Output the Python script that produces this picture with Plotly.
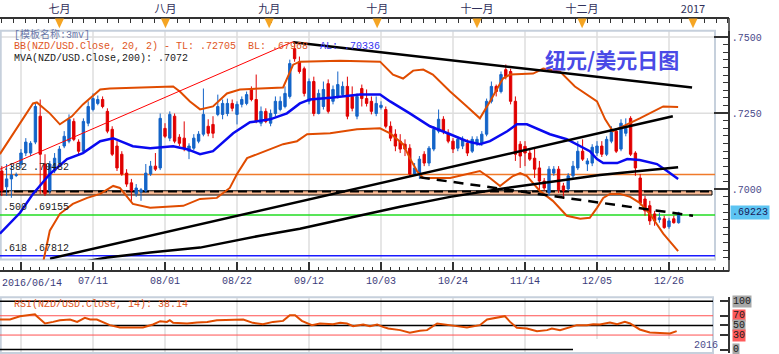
import plotly.graph_objects as go

W, H = 779, 354
PW = 729  # width of plotting area in px (right margin holds the price axis)

def yp(p):
    return 1 - p / H

def xp(p):
    return p / PW

MONO = "Liberation Mono, Noto Sans CJK SC, monospace"
CJK = "Noto Sans CJK SC"

# ---------------- data (trading-day index 0 = 2016/06/14) ----------------
opens = [.7060, .7008, .7034, .7045, .7083, .7119, .7119, .7155, .7240, .7083,
         .6995, .7060, .7086, .7142, .7158, .7223, .7155, .7125, .7217, .7262,
         .7282, .7295, .7256, .7197, .7142, .7115, .7053, .7021, .6985, .6991,
         .6995, .7050, .7076, .7070, .7200, .7168, .7240, .7171, .7168, .7125,
         .7135, .7158, .7181, .7207, .7213, .7246, .7246, .7249, .7282, .7246,
         .7279, .7282, .7328, .7295, .7217, .7256, .7217, .7249, .7262, .7272,
         .7305, .7462, .7419, .7396, .7289, .7354, .7249, .7272, .7347, .7289,
         .7305, .7311, .7338, .7305, .7240, .7331, .7298, .7289, .7249, .7269,
         .7262, .7207, .7181, .7158, .7148, .7135, .7050, .7050, .7115, .7086,
         .7132, .7191, .7230, .7184, .7158, .7135, .7142, .7151, .7125, .7151,
         .7151, .7181, .7289, .7338, .7321, .7393, .7387, .7289, .7148, .7141,
         .7119, .7102, .7070, .7027, .6988, .7053, .7066, .7011, .7001, .7044,
         .7070, .7125, .7083, .7086, .7119, .7142, .7115, .7158, .7191, .7132,
         .7184, .7233, .7119, .7037, .6968, .6946, .6919, .6900, .6903, .6877,
         .6903, .6890]
highs = [.7076, .7083, .7083, .7055, .7132, .7168, .7158, .7285, .7295, .7115,
         .7093, .7119, .7142, .7191, .7246, .7233, .7164, .7233, .7289, .7315,
         .7308, .7305, .7266, .7207, .7158, .7125, .7066, .7034, .7017, .7004,
         .7083, .7093, .7119, .7249, .7217, .7256, .7249, .7181, .7223, .7151,
         .7181, .7191, .7331, .7230, .7240, .7311, .7295, .7298, .7295, .7289,
         .7305, .7321, .7338, .7377, .7272, .7266, .7262, .7305, .7305, .7338,
         .7426, .7485, .7436, .7403, .7364, .7370, .7328, .7354, .7361, .7341,
         .7387, .7354, .7370, .7338, .7315, .7344, .7328, .7305, .7305, .7289,
         .7272, .7223, .7197, .7181, .7164, .7148, .7086, .7109, .7125, .7142,
         .7207, .7262, .7240, .7197, .7168, .7174, .7174, .7164, .7174, .7174,
         .7191, .7298, .7354, .7344, .7387, .7410, .7396, .7305, .7158, .7158,
         .7132, .7135, .7093, .7037, .7076, .7076, .7076, .7021, .7053, .7093,
         .7158, .7164, .7102, .7148, .7158, .7158, .7174, .7207, .7200, .7230,
         .7233, .7240, .7125, .7050, .6978, .6962, .6929, .6923, .6913, .6906,
         .6913, .6926]
lows = [.6978, .6978, .6972, .7040, .7070, .7109, .7109, .7148, .6985, .6978,
        .6985, .7053, .7076, .7135, .7151, .7158, .7115, .7119, .7207, .7256,
        .7276, .7266, .7184, .7109, .7060, .7044, .7008, .6962, .6975, .6962,
        .6988, .7044, .7060, .7063, .7168, .7158, .7151, .7142, .7125, .7099,
        .7128, .7151, .7174, .7174, .7168, .7240, .7230, .7240, .7256, .7213,
        .7269, .7276, .7289, .7217, .7207, .7217, .7207, .7240, .7256, .7266,
        .7298, .7419, .7380, .7305, .7279, .7240, .7246, .7262, .7249, .7279,
        .7298, .7305, .7230, .7256, .7230, .7272, .7272, .7246, .7240, .7262,
        .7200, .7158, .7125, .7119, .7109, .7044, .7044, .7034, .7076, .7076,
        .7125, .7184, .7181, .7151, .7119, .7125, .7132, .7109, .7119, .7142,
        .7142, .7174, .7282, .7305, .7315, .7361, .7279, .7093, .7070, .7076,
        .7093, .7037, .6995, .6995, .6978, .7044, .6988, .6968, .6995, .7037,
        .7063, .7093, .7060, .7076, .7109, .7106, .7109, .7151, .7119, .7125,
        .7174, .7109, .7044, .6946, .6913, .6883, .6880, .6890, .6870, .6870,
        .6887, .6887]
closes = [.6995, .7034, .7047, .7048, .7119, .7155, .7151, .7272, .7115, .6985,
          .7083, .7102, .7132, .7174, .7230, .7164, .7125, .7223, .7272, .7298,
          .7295, .7272, .7191, .7115, .7070, .7050, .7017, .6995, .7004, .6998,
          .7053, .7076, .7066, .7233, .7174, .7246, .7158, .7151, .7135, .7142,
          .7168, .7181, .7246, .7184, .7184, .7272, .7282, .7282, .7266, .7279,
          .7295, .7311, .7295, .7223, .7256, .7223, .7249, .7289, .7289, .7315,
          .7413, .7429, .7387, .7315, .7354, .7249, .7315, .7328, .7256, .7328,
          .7344, .7338, .7240, .7266, .7305, .7298, .7282, .7256, .7282, .7276,
          .7207, .7168, .7142, .7132, .7132, .7050, .7070, .7099, .7086, .7135,
          .7197, .7230, .7191, .7158, .7132, .7164, .7164, .7119, .7164, .7164,
          .7181, .7289, .7338, .7321, .7377, .7370, .7289, .7115, .7109, .7119,
          .7099, .7066, .7027, .7004, .7066, .7066, .6998, .6995, .7044, .7076,
          .7125, .7099, .7093, .7138, .7142, .7115, .7164, .7197, .7125, .7217,
          .7200, .7115, .7070, .6955, .6929, .6896, .6896, .6906, .6874, .6896,
          .6890, .69223]
days = list(range(len(closes)))

# Bollinger upper / lower, 20-day mean, 200-day mean (read at visible turning points)
bbu_day = [-0.4, 6.5, 7.3, 10, 12.1, 14.6, 16.9, 20.5, 22.5, 28.8, 35.7, 37.1, 39.2, 41.3, 44,
           46.9, 49.6, 53.8, 58.6, 60.7, 62.1, 70.5, 78.8, 81.5, 83.6, 85.7, 87.8, 89.8, 93.4,
           96.9, 99.6, 101.7, 104.4, 105.9, 110.7, 112.8, 116.3, 119.4, 124, 125.7, 127.3, 129.4,
           132.9, 137.8, 140.9]
bbu = [.71154, .72821, .72853, .72494, .72134, .72396, .72788, .73278, .73311, .73344, .73376,
       .73213, .72886, .72625, .72723, .73147, .73278, .73311, .73344, .74095, .74193, .74226,
       .74193, .73768, .73638, .73899, .73932, .73768, .73213, .72723, .72330, .72886, .73638,
       .73768, .73801, .73964, .73866, .73376, .72886, .72298, .71906, .72069, .72330, .72723,
       .72705]
bbl_day = [8.6, 10, 12.1, 14.8, 17.8, 20.5, 23.2, 24.6, 27.3, 30.9, 37.8, 41.3, 44.8, 47.5, 49,
           51.1, 53.8, 55.9, 58.6, 61.5, 63.6, 68.4, 74, 78.8, 80.9, 83.6, 85, 86.5, 87.8, 93.4,
           96.9, 99.6, 101.7, 103.8, 106.5, 108, 109.4, 112.1, 114.8, 117.7, 120.5, 122.5, 124,
           125.3, 126.7, 128.8, 130.9, 132.9, 135, 137.8, 140.9]
bbl = [.67592, .68638, .69193, .69520, .69716, .69847, .70108, .70043, .69520, .69389, .69455,
       .69683, .69716, .70043, .70500, .71023, .71187, .71317, .71481, .71579, .71808, .71840,
       .71971, .72004, .71840, .71481, .71023, .70598, .70370, .70370, .70500, .70598, .70370,
       .70108, .70435, .70533, .70435, .69945, .69618, .69128, .69030, .69062, .69389, .69716,
       .69847, .69847, .69749, .69553, .69193, .68540, .67968]
ma20_day = [-0.4, 3.8, 6.5, 10, 13.6, 16.9, 20.5, 23.2, 27.3, 30.9, 35.7, 38.6, 41.3, 44, 48.2,
            51.7, 55.9, 59.4, 62.1, 64.2, 69, 74.6, 78.8, 80.9, 85, 89.2, 93.4, 96.9, 99.6, 101.7,
            105.3, 107.3, 109.4, 112.1, 114.2, 117.7, 120.5, 122.5, 124, 125.3, 128.2, 130.3,
            132.9, 136.5, 138.6, 140.9]
ma20 = [.68540, .69226, .69847, .70500, .70991, .71187, .71579, .71677, .71415, .71350, .71415,
        .71317, .71154, .71252, .71840, .72200, .72298, .72494, .72821, .72951, .73017, .73115,
        .73115, .72886, .72494, .72069, .71808, .71579, .71481, .71579, .71906, .72134, .72134,
        .71938, .71808, .71644, .71415, .71252, .70991, .70860, .70860, .70991, .70958, .70827,
        .70598, .70336]
ma200_day = [16.3, 21.9, 30.9, 41.3, 53.8, 62.1, 72.5, 83, 93.4, 103.8, 114.2, 124.6, 135, 140.9]
ma200 = [.67592, .67755, .67919, .68082, .68474, .68703, .69062, .69422, .69749, .70010, .70239,
         .70468, .70631, .7072]

rsi_day = [-0.4, 1.7, 3.8, 5.9, 6.9, 7.3, 9, 10.7, 12.1, 14.2, 15.7, 17.3, 18.4, 19.8, 21.1, 22.5,
           24.6, 27.3, 29.4, 31.5, 33, 34.4, 35, 35.7, 38.6, 40.7, 42.8, 44.8, 48.2, 50.3, 52.3,
           54.4, 56.5, 58.6, 60, 61.1, 62.5, 64.6, 66.3, 69, 70.5, 71.9, 73.2, 75.3, 76.7, 78.2,
           79.4, 80.5, 83, 85, 87.1, 88.6, 90.7, 92.8, 94.8, 96.9, 99.6, 101.1, 103.2, 104.8,
           105.9, 107.3, 109.4, 111.5, 113.6, 114.6, 116.3, 118.4, 119.8, 121.9, 123.2, 124.6,
           126.7, 128.2, 129.8, 130.9, 132.9, 135, 137.1, 139.2, 140.6]
rsi = [62.3, 62.3, 69.1, 71.1, 73.2, 69.1, 54.0, 57.3, 60.8, 62.3, 57.3, 65.6, 62.3, 62.3, 57.3,
       50.5, 45.8, 45.8, 45.8, 52, 58.8, 57.3, 60.8, 55.3, 54, 56.1, 57.3, 60.8, 62.3, 62.3, 55.3,
       52.6, 57.3, 59.4, 71.1, 71.1, 59.4, 50.5, 54, 52.6, 55.3, 54, 48.5, 52, 48.5, 52, 47, 43.7,
       40.2, 34.6, 38.8, 40.2, 54, 50.5, 48.5, 45.8, 50.5, 62.3, 65.6, 69.1, 57.3, 45, 43.7, 38.1,
       40.2, 43.7, 40.2, 45.8, 50.5, 50.5, 52.6, 52, 56.1, 52.6, 57.3, 54, 41.6, 35.5, 34.6, 33.4,
       38.14]

# hand-drawn trend lines (endpoints in day index / price)
red_line_day, red_line = [-0.375, 60.7], [.7066, .7485]
top_line_day, top_line = [60.7, 143.8], [.7483, .7334]
up_line_day, up_line = [10.05, 139.8], [.6772, .7240]
dash_line_day, dash_line = [87.1, 144.0], [.7039, .6913]

fib_levels = [0.70482, 0.69155, 0.67812]
fib_labels = [".382 .70482", ".500 .69155", ".618 .67812"]
fib_colors = ["#f07a2a", "#22dd22", "#1a1aff"]
band = [0.6981, 0.6995]
band_dash = 0.6993
last_price = 0.69223

tick_days = [4, 19, 34, 49, 64, 79, 94, 109, 124, 139]
tick_labels = ["", "07/11", "08/01", "08/22", "09/12", "10/03", "10/24", "11/14", "12/05", "12/26"]
month_days = [12.0, 34.1, 55.7, 78.2, 99.0, 120.9, 144.0]
month_labels = ["七月", "八月", "九月", "十月", "十一月", "十二月", "2017"]

rsi_levels = [100, 70, 50, 30, 0]
rsi_level_bg = ["#a8a8a8", "#ff5a5a", "#a8a8a8", "#ff5a5a", "#a8a8a8"]

UP = "#1464c8"
DN = "#e00000"
ORANGE = "#e04c00"

XR = [-0.375, 151.5]
YR = [0.67690, 0.75206]
RR = [-7.2, 108.2]

fig = go.Figure()

fig.add_trace(go.Candlestick(
    x=days, open=opens, high=highs, low=lows, close=closes,
    increasing=dict(line=dict(color=UP, width=1), fillcolor=UP),
    decreasing=dict(line=dict(color=DN, width=1), fillcolor=DN),
    whiskerwidth=0, showlegend=False, hoverinfo="skip", xaxis="x", yaxis="y"))

def line(x, y, color, width, dash="solid", yaxis="y"):
    fig.add_trace(go.Scatter(x=x, y=y, mode="lines", line=dict(color=color, width=width, dash=dash),
                             showlegend=False, hoverinfo="skip", xaxis="x", yaxis=yaxis))

line(bbu_day, bbu, ORANGE, 2)
line(bbl_day, bbl, ORANGE, 2)
line(ma20_day, ma20, "#0a0af0", 2.5)
line(ma200_day, ma200, "#000000", 2.5)
line(red_line_day, red_line, "#ff0000", 1)
line(top_line_day, top_line, "#000000", 2.5)
line(up_line_day, up_line, "#000000", 2.5)
line(dash_line_day, dash_line, "#000000", 2.5, dash="10px,7px")
line(rsi_day, rsi, ORANGE, 2, yaxis="y2")

# dummy trace so the top (month) axis is drawn
fig.add_trace(go.Scatter(x=[0], y=[0.72], xaxis="x2", yaxis="y", mode="markers",
                         marker=dict(opacity=0), showlegend=False, hoverinfo="skip"))

shapes = []
GRID = "#dedede"
FRAME = "#c6d0dc"
# vertical grid lines
for d in tick_days:
    shapes.append(dict(type="line", xref="x", yref="paper", x0=d, x1=d, y0=yp(259), y1=yp(29),
                       line=dict(color=GRID, width=1.5), layer="below"))
    shapes.append(dict(type="line", xref="x", yref="paper", x0=d, x1=d, y0=yp(353), y1=yp(297),
                       line=dict(color=GRID, width=1.5), layer="below"))
for v in [0.75, 0.725]:
    shapes.append(dict(type="line", xref="paper", yref="y", x0=0, x1=xp(715), y0=v, y1=v,
                       line=dict(color=GRID, width=1.5), layer="below"))
# frames
shapes.append(dict(type="rect", xref="paper", yref="paper", x0=0.001, x1=xp(715), y0=yp(259), y1=yp(29),
                   line=dict(color=FRAME, width=2), layer="below"))
shapes.append(dict(type="rect", xref="paper", yref="paper", x0=0.001, x1=xp(713), y0=yp(353), y1=yp(297),
                   line=dict(color=FRAME, width=2), layer="below"))
# support band
shapes.append(dict(type="rect", xref="paper", yref="y", x0=0, x1=xp(712), y0=band[0], y1=band[1],
                   fillcolor="#f8b892", line=dict(color="#000000", width=1), layer="below"))
shapes.append(dict(type="line", xref="paper", yref="y", x0=0, x1=xp(712), y0=band_dash, y1=band_dash,
                   line=dict(color="#000000", width=2, dash="9px,5px"), layer="below"))
# fibonacci levels
for v, c in zip(fib_levels, fib_colors):
    shapes.append(dict(type="line", xref="paper", yref="y", x0=0, x1=xp(715), y0=v, y1=v,
                       line=dict(color=c, width=1.5), layer="below"))
# RSI level lines
for v in rsi_levels:
    col = "#ff5050" if v in (30, 70) else "#000000"
    x1 = xp(573) if v == 0 else xp(713)
    shapes.append(dict(type="line", xref="paper", yref="y2", x0=0, x1=x1, y0=v, y1=v,
                       line=dict(color=col, width=1.5 if col == "#000000" else 1), layer="below"))
# axis line extensions
shapes.append(dict(type="line", xref="paper", yref="paper", x0=1, x1=1, y0=yp(271), y1=yp(16),
                   line=dict(color="#333333", width=1.5)))
# month markers
for m in month_days:
    shapes.append(dict(type="path", xref="x", yref="paper",
                       path=f"M {m-0.95},{yp(16.5)} L {m+0.95},{yp(16.5)} L {m},{yp(26.5)} Z",
                       fillcolor="#f5a524", line=dict(width=0)))

ann = []
def text(t, x, y, color, size=10, family=MONO, xanchor="left", yanchor="middle", xref="paper", yref="paper", **kw):
    ann.append(dict(text=t, x=x, y=y, xref=xref, yref=yref, xanchor=xanchor, yanchor=yanchor,
                    showarrow=False, font=dict(family=family, size=size, color=color), **kw))

NB = "\u00a0"
text("[模板名称:3mv]", xp(12), yp(33), "#6a78a8")
text(f"<span style='color:#e0561e'>BB(NZD/USD.Close, 20, 2) - TL: .72705{NB}{NB}BL: .67968</span>"
     f"{NB}{NB}<span style='color:#3434f0'>AL: .70336</span>", xp(12), yp(45), "#e0561e")
text("MVA(NZD/USD.Close,200): .7072", xp(12), yp(57), "#202020")
text("<b>纽元/美元日图</b>", xp(612), yp(57), "#4a4ae6", size=21, family=CJK, xanchor="center")
for v, lab in zip(fib_levels, fib_labels):
    text(lab, xp(1), v, "#1a1a1a", yref="y", yshift=7.5)
text("RSI(NZD/USD.Close, 14): 38.14", xp(12), yp(304), "#e0561e")
text("2016/06/14", 0, yp(283), "#3c3c7a")
text(".69223", 1, last_price, "#1a1a5a", yref="y", bgcolor="#5cc4f2", xshift=1, borderpad=1)
for v, bg in zip(rsi_levels, rsi_level_bg):
    text(str(v), 1, v, "#202020", yref="y2", bgcolor=bg, xshift=3, borderpad=0)
shapes.append(dict(type="rect", xref="paper", yref="paper", x0=xp(574), x1=xp(712), y0=yp(352), y1=yp(339),
                   fillcolor="white", line=dict(width=0)))
text("2016", xp(692), yp(345), "#4a4a8a")

AX = "#333333"
fig.update_layout(
    width=W, height=H, margin=dict(l=0, r=W - PW, t=0, b=0),
    paper_bgcolor="white", plot_bgcolor="white", showlegend=False,
    xaxis=dict(domain=[0, 1], range=XR, anchor="free", position=yp(271), showline=True,
               linecolor=AX, linewidth=1.5, ticks="inside", ticklen=9, tickwidth=1.5, tickcolor=AX,
               tickmode="array", tickvals=tick_days, ticktext=tick_labels,
               tickfont=dict(family=MONO, size=10, color="#3c3c7a"),
               showgrid=False, zeroline=False, rangeslider=dict(visible=False),
               minor=dict(ticks="inside", ticklen=4, tickwidth=1, tickcolor=AX,
                          tickmode="linear", tick0=4, dtick=1.875, showgrid=False)),
    xaxis2=dict(overlaying="x", side="top", anchor="free", position=yp(16), range=XR,
                showline=True, linecolor=AX, linewidth=1.5, ticks="inside", ticklen=5, tickwidth=1,
                tickcolor=AX, tickmode="array", tickvals=month_days, ticktext=month_labels,
                tickfont=dict(family=CJK, size=11, color="#30305a"), showgrid=False, zeroline=False,
                minor=dict(ticks="inside", ticklen=4, tickwidth=1, tickcolor=AX,
                           tickmode="linear", tick0=0, dtick=2.44, showgrid=False)),
    yaxis=dict(domain=[yp(259), yp(29)], range=YR, side="right", anchor="free", position=1,
               showline=True, linecolor=AX, linewidth=1.5, ticks="inside", ticklen=14, tickwidth=1.5,
               tickcolor=AX, tickmode="array", tickvals=[0.70, 0.725, 0.75],
               ticktext=[".7000", ".7250", ".7500"],
               tickfont=dict(family=MONO, size=10, color="#4a4a8a"), showgrid=False, zeroline=False,
               minor=dict(ticks="inside", ticklen=5, tickwidth=1, tickcolor=AX,
                          tickmode="linear", tick0=0.75, dtick=0.0025, showgrid=False)),
    yaxis2=dict(domain=[yp(353), yp(297)], range=RR, side="right", anchor="free", position=1,
                showline=True, linecolor=AX, linewidth=1.5, ticks="inside", ticklen=8, tickwidth=1.5,
                tickcolor=AX, tickmode="array", tickvals=rsi_levels, showticklabels=False,
                showgrid=False, zeroline=False),
    shapes=shapes, annotations=ann,
)

fig.write_html("out.html")
